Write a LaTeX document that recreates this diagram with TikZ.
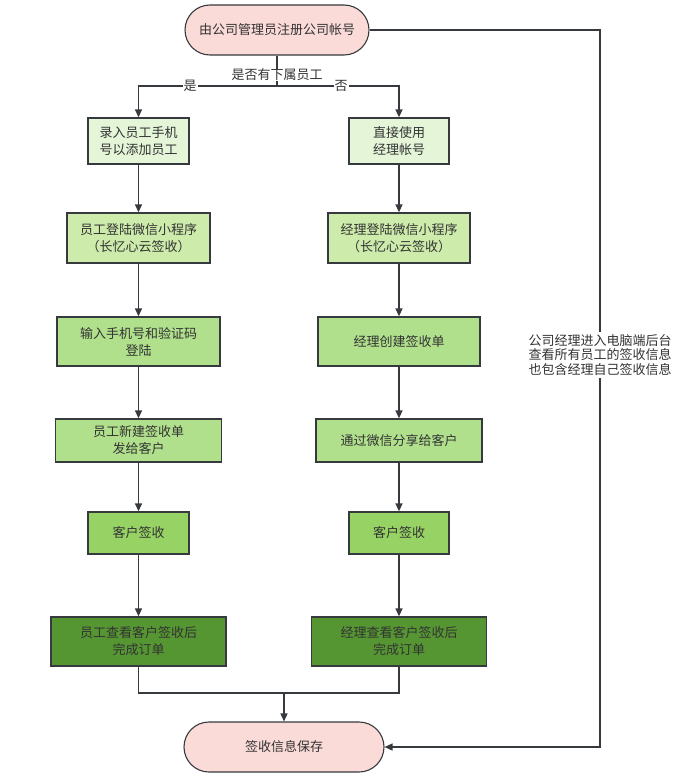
\documentclass[tikz,border=0pt]{standalone}
\usepackage{fontspec}
\setmainfont{Noto Sans CJK SC}
\usetikzlibrary{arrows.meta,shapes.misc}
\definecolor{linec}{HTML}{36393D}
\definecolor{pinkc}{HTML}{FADBD8}
\definecolor{g1}{HTML}{E4F5D8}
\definecolor{g2}{HTML}{CDEBAB}
\definecolor{g3}{HTML}{B0E08C}
\definecolor{g4}{HTML}{96D264}
\definecolor{g5}{HTML}{559632}
\definecolor{txt}{HTML}{333333}
\tikzset{
  every node/.style={font=\fontsize{13}{17}\selectfont, text=txt, align=center},
  box/.style={draw=linec, line width=1.3pt, minimum width=#1, inner sep=0pt},
  term/.style={draw=linec, line width=1.1pt, fill=pinkc, rounded rectangle, minimum height=50pt, inner sep=0pt},
  conn/.style={draw=linec, line width=1.4pt},
  arr/.style={conn, -{Triangle[length=8pt,width=7pt]}},
  lbl/.style={fill=white, inner sep=1pt}
}
\begin{document}
\begin{tikzpicture}[x=1pt,y=-1pt]
\useasboundingbox (0,0) rectangle (680,778);
% terminals
\node[term, minimum width=184pt] (start) at (277,30) {由公司管理员注册公司帐号};
\node[term, minimum width=200pt] (end) at (284,747) {签收信息保存};
% left column
\node[box=101pt, minimum height=46pt, fill=g1] (l1) at (138.5,141) {录入员工手机\\号以添加员工};
\node[box=143pt, minimum height=50pt, fill=g2] (l2) at (138.5,238) {员工登陆微信小程序\\（长忆心云签收）};
\node[box=163pt, minimum height=49pt, fill=g3] (l3) at (138.5,341.5) {输入手机号和验证码\\登陆};
\node[box=166pt, minimum height=43pt, fill=g3] (l4) at (138.5,440.5) {员工新建签收单\\发给客户};
\node[box=101pt, minimum height=42pt, fill=g4] (l5) at (138.5,533) {客户签收};
\node[box=175pt, minimum height=49pt, fill=g5] (l6) at (138.5,641.5) {员工查看客户签收后\\完成订单};
% right column
\node[box=100pt, minimum height=46pt, fill=g1] (r1) at (399,141) {直接使用\\经理帐号};
\node[box=142pt, minimum height=50pt, fill=g2] (r2) at (399,238) {经理登陆微信小程序\\（长忆心云签收）};
\node[box=162pt, minimum height=49pt, fill=g3] (r3) at (399,341.5) {经理创建签收单};
\node[box=166pt, minimum height=43pt, fill=g3] (r4) at (399,440.5) {通过微信分享给客户};
\node[box=100pt, minimum height=42pt, fill=g4] (r5) at (399,533) {客户签收};
\node[box=175pt, minimum height=49pt, fill=g5] (r6) at (399,641.5) {经理查看客户签收后\\完成订单};
% split
\coordinate (sp) at (277,86);
\draw[conn] (start.south) -- (sp);
\draw[arr] (sp) -| (l1.north);
\draw[arr] (sp) -| (r1.north);
\node[lbl, inner sep=0pt] (q) at (277,75) {是否有下属员工};
\node[lbl] (yes) at (190,86) {是};
\node[lbl] (no) at (341,86) {否};
% columns
\foreach \a/\b in {l1/l2,l2/l3,l3/l4,l4/l5,l5/l6,r1/r2,r2/r3,r3/r4,r4/r5,r5/r6}
  \draw[arr] (\a) -- (\b);
% merge
\coordinate (mg) at (284,693);
\draw[conn] (l6.south) |- (r6.south |- mg) -- (r6.south);
\draw[arr] (mg) -- (end.north);
% right loop
\coordinate (c1) at (600,30);
\coordinate (c2) at (600,747);
\draw[arr] (start.east) -- (c1) -- (c2) -- (end.east);
\node[lbl, font=\fontsize{13}{14.5}\selectfont, inner sep=2pt] (note) at (600,355) {公司经理进入电脑端后台\\查看所有员工的签收信息\\也包含经理自己签收信息};
\end{tikzpicture}
\end{document}
